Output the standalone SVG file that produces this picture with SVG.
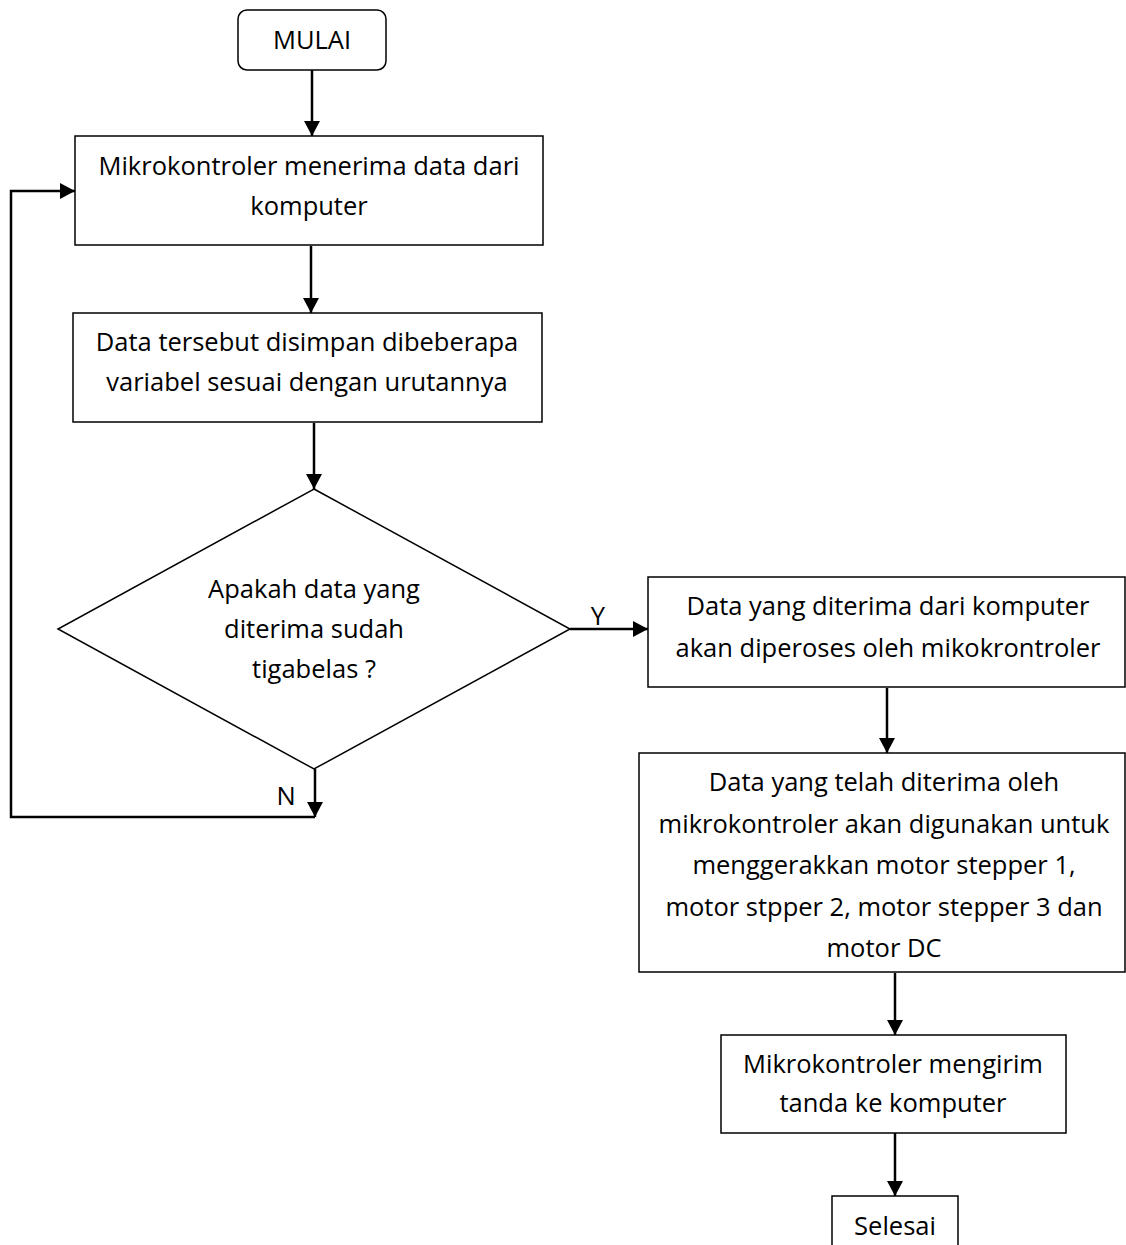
<svg xmlns="http://www.w3.org/2000/svg" width="1126" height="1245" viewBox="0 0 1126 1245">
<style>
.box{fill:#fff;stroke:#000;stroke-width:1.5}
.lbl{font-family:"Open Sans","Liberation Sans",sans-serif;font-size:25.5px;fill:#000;text-anchor:middle}
.con{fill:none;stroke:#000;stroke-width:2.5}
</style>
<defs>
<marker id="ah" viewBox="0 0 15 16" refX="15" refY="8" markerWidth="15" markerHeight="16" markerUnits="userSpaceOnUse" orient="auto">
<path d="M0,0 L15,8 L0,16 z" fill="#000"/>
</marker>
</defs>
<rect width="1126" height="1245" fill="#fff"/>
<g id="connectors">
<path class="con" d="M312,70 V136" marker-end="url(#ah)"/>
<path class="con" d="M311,246 V313" marker-end="url(#ah)"/>
<path class="con" d="M314,423 V489" marker-end="url(#ah)"/>
<path class="con" d="M570,629 H648" marker-end="url(#ah)"/>
<path class="con" d="M887,688 V753" marker-end="url(#ah)"/>
<path class="con" d="M895,973 V1035" marker-end="url(#ah)"/>
<path class="con" d="M895,1133 V1196" marker-end="url(#ah)"/>
<path class="con" d="M315,769 V817" marker-end="url(#ah)"/>
<path class="con" d="M315,817 H11 V191 H75" marker-end="url(#ah)"/>
<text class="lbl" x="598" y="625">Y</text>
<text class="lbl" x="286" y="805">N</text>
</g>
<g id="mulai">
<rect class="box" x="238" y="10" width="148" height="60" rx="9"/>
<text class="lbl" x="312" y="49">MULAI</text>
</g>
<g id="terima">
<rect class="box" x="75" y="136" width="468" height="109"/>
<text class="lbl" x="309" y="175">Mikrokontroler menerima data dari</text>
<text class="lbl" x="309" y="215">komputer</text>
</g>
<g id="simpan">
<rect class="box" x="73" y="313" width="469" height="109"/>
<text class="lbl" x="307" y="351">Data tersebut disimpan dibeberapa</text>
<text class="lbl" x="307" y="391">variabel sesuai dengan urutannya</text>
</g>
<g id="cek">
<polygon class="box" points="314,489 570,629 314,769 58,629"/>
<text class="lbl" x="314" y="598">Apakah data yang</text>
<text class="lbl" x="314" y="638">diterima sudah</text>
<text class="lbl" x="314" y="678">tigabelas ?</text>
</g>
<g id="proses">
<rect class="box" x="648" y="577" width="477" height="110"/>
<text class="lbl" x="888" y="615">Data yang diterima dari komputer</text>
<text class="lbl" x="888" y="657">akan diperoses oleh mikokrontroler</text>
</g>
<g id="gerak">
<rect class="box" x="639" y="753" width="486" height="219"/>
<text class="lbl" x="884" y="791">Data yang telah diterima oleh</text>
<text class="lbl" x="884" y="833">mikrokontroler akan digunakan untuk</text>
<text class="lbl" x="884" y="874">menggerakkan motor stepper 1,</text>
<text class="lbl" x="884" y="916">motor stpper 2, motor stepper 3 dan</text>
<text class="lbl" x="884" y="957">motor DC</text>
</g>
<g id="kirim">
<rect class="box" x="721" y="1035" width="345" height="98"/>
<text class="lbl" x="893" y="1073">Mikrokontroler mengirim</text>
<text class="lbl" x="893" y="1112">tanda ke komputer</text>
</g>
<g id="selesai">
<rect class="box" x="832" y="1196" width="126" height="60"/>
<text class="lbl" x="895" y="1235">Selesai</text>
</g>
</svg>
